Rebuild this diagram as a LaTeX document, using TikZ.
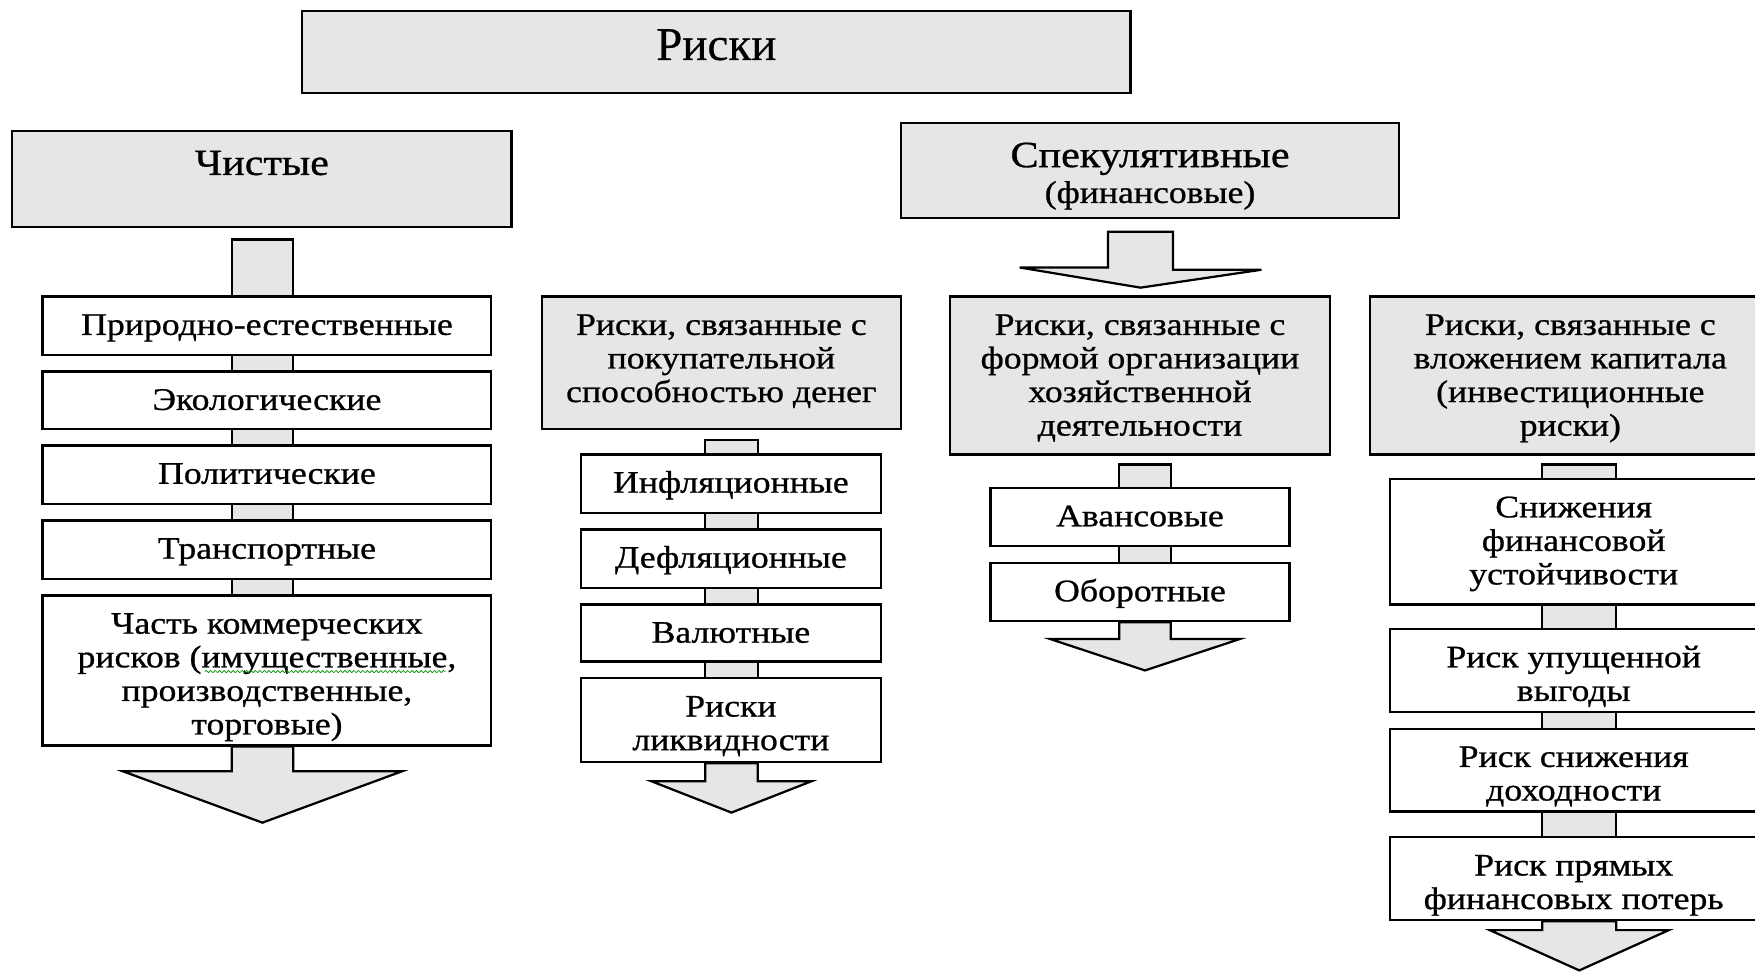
\documentclass[tikz,border=0pt]{standalone}
\usepackage{fontspec}
\setmainfont{Liberation Serif}
\newfontfamily\bodyfont{Liberation Serif}[FakeStretch=1.14,FakeBold=0.8]
\newfontfamily\topfont{Liberation Serif}[FakeStretch=1.0,FakeBold=0.5]
\usetikzlibrary{calc,backgrounds,decorations.pathmorphing}
\definecolor{boxgray}{HTML}{E6E6E6}
\newcommand\botarrow[6]{%
  \draw[bar] ($(#1.south -| #2)+(-#3,0)$) -- ++(0,#4) -- ++({-(#5-#3)},0)
    -- ($(#1.south -| #2)+(0,#4+#6)$) -- ++(#5,-#6) -- ++({-(#5-#3)},0)
    -- ++(0,-#4) -- cycle;}
\newcommand\tbox[6]{%
  \node[#1, minimum width=#2pt, minimum height=#3pt] (#5) at (#4) {};
  \node[txt, anchor=north] (#5t) at ($(#5.north)+(0,14)$) {\strut #6};}
\begin{document}
\begin{tikzpicture}[x=1pt,y=-1pt,
  box/.style={draw=black, line width=2pt, fill=white, inner sep=0pt},
  gbox/.style={box, fill=boxgray},
  txt/.style={inner sep=0pt, align=center, font=\bodyfont\fontsize{28}{30}\selectfont},
  bar/.style={draw=black, line width=2pt, fill=boxgray, line join=miter},
]
\useasboundingbox (0,0) rectangle (1568,868);

% spine x-positions
\coordinate (s1) at (234.5,0);
\coordinate (s2) at (653.5,0);
\coordinate (s3) at (1023,0);
\coordinate (s3a) at (1019,0);
\coordinate (s4) at (1411,0);

% top level
\node[gbox, minimum width=740pt, minimum height=73pt] (risk) at (640,46.5) {};
\node[txt, anchor=north, font=\topfont\fontsize{42}{42}\selectfont] (riskt) at ($(risk.north)+(0,15)$) {\strut Риски};
\node[gbox, minimum width=446pt, minimum height=86pt] (chist) at (234,160) {};
\node[txt, anchor=north, font=\bodyfont\fontsize{33}{33}\selectfont] (chistt) at ($(chist.north)+(0,17)$) {\strut Чистые};
\node[gbox, minimum width=445pt, minimum height=85pt] (spek) at (1027.5,152.5) {};
\node[txt, anchor=north] (spekt) at ($(spek.north)+(0,17)$)
  {{\fontsize{33}{33}\selectfont\strut Спекулятивные}\\[2pt](финансовые)};

% column 1
\tbox{box}{401}{52}{238.5,291}{n11}{Природно-естественные}
\tbox{box}{401}{51}{238.5,357.5}{n12}{Экологические}
\tbox{box}{401}{52}{238.5,424}{n13}{Политические}
\tbox{box}{401}{52}{238.5,491}{n14}{Транспортные}
\tbox{box}{401}{134}{238.5,599}{n15}{Часть коммерческих\\рисков (имущественные,\\производственные,\\торговые)}

% column 2
\tbox{gbox}{321}{118}{644.5,324}{h2}{Риски, связанные с\\покупательной\\способностью денег}
\tbox{box}{268}{52}{653,432}{n21}{Инфляционные}
\tbox{box}{268}{52}{653,499}{n22}{Дефляционные}
\tbox{box}{268}{51}{653,565.5}{n23}{Валютные}
\tbox{box}{268}{75}{653,643.5}{n24}{Риски\\ликвидности}

% column 3
\tbox{gbox}{339}{141}{1018.5,335.5}{h3}{Риски, связанные с\\формой организации\\хозяйственной\\деятельности}
\tbox{box}{267}{52}{1018.5,462}{n31}{Авансовые}
\tbox{box}{267}{52}{1018.5,529}{n32}{Оборотные}

% column 4
\tbox{gbox}{358}{141}{1403,335.5}{h4}{Риски, связанные с\\вложением капитала\\(инвестиционные\\риски)}
\tbox{box}{328}{112}{1406,484}{n41}{Снижения\\финансовой\\устойчивости}
\tbox{box}{328}{74}{1406,599}{n42}{Риск упущенной\\выгоды}
\tbox{box}{328}{74}{1406,688}{n43}{Риск снижения\\доходности}
\tbox{box}{328}{74}{1406,785}{n44}{Риск прямых\\финансовых потерь}

\begin{scope}[on background layer]
  % spines
  \draw[bar] ($(chist.south -| s1)+(-27.5,10)$) rectangle ($(n15.south -| s1)+(27.5,0)$);
  \draw[bar] ($(h2.south -| s2)+(-23.5,9)$) rectangle ($(n24.south -| s2)+(23.5,0)$);
  \draw[bar] ($(h3.south -| s3)+(-23,8)$) rectangle ($(n32.south -| s3)+(23,0)$);
  \draw[bar] ($(h4.south -| s4)+(-33,8)$) rectangle ($(n44.south -| s4)+(33,0)$);
  % bottom arrows
  \botarrow{n15}{s1}{27.5}{22}{125}{46}
  \botarrow{n24}{s2}{23.5}{16}{71.5}{28}
  \botarrow{n32}{s3}{23}{15}{84.5}{28}
  \botarrow{n44}{s4}{33}{8}{80}{36}
\end{scope}

% arrow from Спекулятивные to column 3 header
\coordinate (t3) at ($(spek.south -| s3a)+(0,11)$);
\draw[bar] ($(t3)+(-29,0)$) -- ++(58,0) -- ++(0,34) -- ++(79,0) -- ($(h3.north -| t3)+(0,-7)$)
  -- ++(-108,-18) -- ++(79,0) -- cycle;

% spell-check squiggle
\draw[green!55!black, line width=0.6pt, decorate, decoration={snake, amplitude=1pt, segment length=4pt}]
  (183,600) -- (398,600);
\end{tikzpicture}
\end{document}
